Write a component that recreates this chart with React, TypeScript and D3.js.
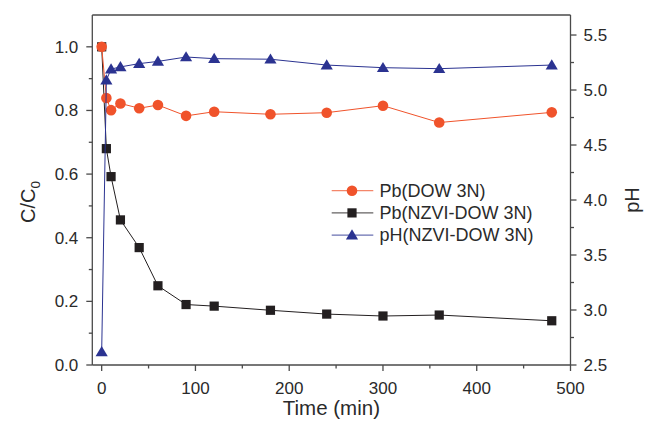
import React from "react";
import * as d3 from "d3";

// time points (min)
const times = [0, 5, 10, 20, 40, 60, 90, 120, 180, 240, 300, 360, 480];
// C/C0 for Pb on DOW 3N
const pbDow = [1.0, 0.839, 0.801, 0.822, 0.807, 0.817, 0.783, 0.796, 0.788, 0.793, 0.815, 0.762, 0.794];
// C/C0 for Pb on NZVI-DOW 3N
const pbNzvi = [1.0, 0.68, 0.592, 0.456, 0.369, 0.249, 0.19, 0.185, 0.172, 0.16, 0.154, 0.157, 0.139];
// pH for NZVI-DOW 3N
const phNzvi = [2.62, 5.09, 5.19, 5.21, 5.24, 5.26, 5.3, 5.285, 5.28, 5.227, 5.203, 5.194, 5.227];

const xTicks = [0, 100, 200, 300, 400, 500];
const xMinor = [50, 150, 250, 350, 450];
const yTicks = [0, 0.2, 0.4, 0.6, 0.8, 1.0];
const yMinor = [0.1, 0.3, 0.5, 0.7, 0.9];
const phTicks = [2.5, 3.0, 3.5, 4.0, 4.5, 5.0, 5.5];
const phMinor = [2.75, 3.25, 3.75, 4.25, 4.75, 5.25];

const legendItems = [
  { label: "Pb(DOW 3N)", kind: "circle" },
  { label: "Pb(NZVI-DOW 3N)", kind: "square" },
  { label: "pH(NZVI-DOW 3N)", kind: "triangle" },
];

const W = 654;
const H = 429;
const m = { left: 92.3, right: 570.5, top: 15, bottom: 365 };

const ORANGE = "#f0532b";
const BLACK = "#231f20";
const BLUE = "#2b3391";
const AXIS = "#4a4a4a";
const TEXT = "#2a2a2a";
const FONT = "Liberation Sans, Arial, sans-serif";

const x = d3.scaleLinear().domain([-10, 500]).range([m.left, m.right]);
const y = d3.scaleLinear().domain([0, 1.1]).range([m.bottom, m.top]);
const yPh = d3.scaleLinear().domain([2.5, 5.682]).range([m.bottom, m.top]);

const Marker = ({ kind, cx, cy }: { kind: string; cx: number; cy: number }) => {
  if (kind === "circle") return <circle cx={cx} cy={cy} r={5.3} fill={ORANGE} />;
  if (kind === "square") return <rect x={cx - 4.6} y={cy - 4.6} width={9.2} height={9.2} fill={BLACK} />;
  const s = 5.8;
  return (
    <path
      d={`M${cx},${cy - s} L${cx + s * 1.05},${cy + s * 0.75} L${cx - s * 1.05},${cy + s * 0.75} Z`}
      fill={BLUE}
    />
  );
};

const App = () => {
  const lineC = d3.line<number>().x((_, i) => x(times[i])).y((d) => y(d));
  const linePh = d3.line<number>().x((_, i) => x(times[i])).y((d) => yPh(d));

  return (
    <svg
      width={W}
      height={H}
      style={{ position: "absolute", left: 0, top: 0, background: "#fff" }}
      fontFamily={FONT}
    >
      {/* series: black under orange, blue on top */}
      <path d={lineC(pbNzvi) || ""} fill="none" stroke={BLACK} strokeWidth={1} />
      {pbNzvi.map((v, i) => (
        <Marker key={"s" + i} kind="square" cx={x(times[i])} cy={y(v)} />
      ))}
      <path d={lineC(pbDow) || ""} fill="none" stroke={ORANGE} strokeWidth={1} />
      {pbDow.map((v, i) => (
        <Marker key={"c" + i} kind="circle" cx={x(times[i])} cy={y(v)} />
      ))}
      <path d={linePh(phNzvi) || ""} fill="none" stroke={BLUE} strokeWidth={1} />
      {phNzvi.map((v, i) => (
        <Marker key={"t" + i} kind="triangle" cx={x(times[i])} cy={yPh(v)} />
      ))}

      {/* frame */}
      <g stroke={AXIS} strokeWidth={1.3}>
        <line x1={m.left} x2={m.right} y1={m.top} y2={m.top} />
        <line x1={m.left} x2={m.right} y1={m.bottom} y2={m.bottom} />
        <line x1={m.left} x2={m.left} y1={m.top} y2={m.bottom} />
        <line x1={m.right} x2={m.right} y1={m.top} y2={m.bottom} />
        {xTicks.map((t) => (
          <line key={"xt" + t} x1={x(t)} x2={x(t)} y1={m.bottom} y2={m.bottom + 6} />
        ))}
        {xMinor.map((t) => (
          <line key={"xm" + t} x1={x(t)} x2={x(t)} y1={m.bottom} y2={m.bottom + 3.5} />
        ))}
        {yTicks.map((t) => (
          <line key={"yt" + t} x1={m.left - 6} x2={m.left} y1={y(t)} y2={y(t)} />
        ))}
        {yMinor.map((t) => (
          <line key={"ym" + t} x1={m.left - 3.5} x2={m.left} y1={y(t)} y2={y(t)} />
        ))}
        {phTicks.map((t) => (
          <line key={"pt" + t} x1={m.right} x2={m.right + 6} y1={yPh(t)} y2={yPh(t)} />
        ))}
        {phMinor.map((t) => (
          <line key={"pm" + t} x1={m.right} x2={m.right + 3.5} y1={yPh(t)} y2={yPh(t)} />
        ))}
      </g>

      {/* tick labels */}
      <g fill={TEXT} fontSize={17}>
        {xTicks.map((t) => (
          <text key={"xl" + t} x={x(t)} y={m.bottom + 29} textAnchor="middle">
            {t}
          </text>
        ))}
        {yTicks.map((t) => (
          <text key={"yl" + t} x={m.left - 14} y={y(t) + 6} textAnchor="end">
            {t.toFixed(1)}
          </text>
        ))}
        {phTicks.map((t) => (
          <text key={"pl" + t} x={m.right + 13} y={yPh(t) + 6} textAnchor="start">
            {t.toFixed(1)}
          </text>
        ))}
      </g>

      {/* axis titles */}
      <text x={(m.left + m.right) / 2} y={415} textAnchor="middle" fontSize={20.5} fill={TEXT}>
        Time (min)
      </text>
      <text transform="translate(35,202) rotate(-90)" textAnchor="middle" fontSize={20} fill={TEXT}>
        C/C<tspan fontSize={13.5} dy={5}>0</tspan>
      </text>
      <text transform="translate(639,200) rotate(-90)" textAnchor="middle" fontSize={20} fill={TEXT}>
        pH
      </text>

      {/* legend */}
      {legendItems.map((d, i) => {
        const ly = 190.7 + i * 22.2;
        const col = d.kind === "circle" ? ORANGE : d.kind === "square" ? BLACK : BLUE;
        return (
          <g key={d.label}>
            <line x1={331.7} x2={373.3} y1={ly} y2={ly} stroke={col} strokeOpacity={0.7} strokeWidth={1.2} />
            <Marker kind={d.kind} cx={352} cy={ly} />
            <text x={379.5} y={ly + 6.3} fontSize={18} fill={TEXT}>
              {d.label}
            </text>
          </g>
        );
      })}
    </svg>
  );
};

export default App;
